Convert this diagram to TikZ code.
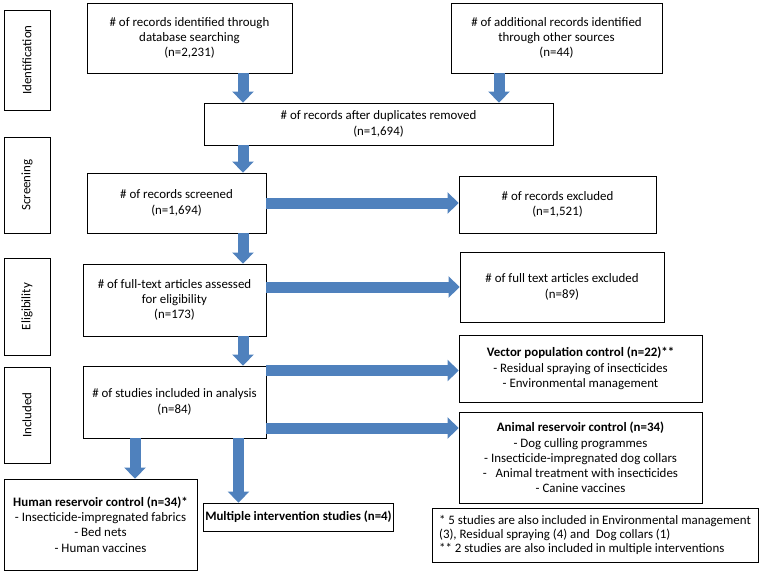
\documentclass[tikz,border=0pt]{standalone}
\usepackage{fontspec}
\setmainfont{Carlito}
\usetikzlibrary{arrows.meta, positioning, calc}
\definecolor{flowcolor}{RGB}{79, 129, 189}

\begin{document}
\begin{tikzpicture}[
    x=1pt, y=-1pt,
    box/.style={rectangle, draw=black, line width=0.8pt, fill=white, align=center, inner sep=2pt, font=\fontsize{12.9}{15.2}\selectfont},
    stage/.style={box, rotate=90, minimum width=100pt, minimum height=46pt},
    flow/.style={line width=11pt, draw=flowcolor, -{Triangle[width=21pt, length=11pt]}},
    note/.style={box, align=left, font=\fontsize{12.9}{13.6}\selectfont}
]
\useasboundingbox (0, 0) rectangle (761, 574);

% === Stage labels ===
\node[stage] (ident) at (27, 60) {Identification};
\node[stage, minimum width=96pt] (screen) at (27, 185) {Screening};
\node[stage, minimum width=97pt] (elig) at (27, 306.5) {Eligibility};
\node[stage, minimum width=96pt] (incl) at (27, 415) {Included};

% === Identification ===
\node[box, minimum width=205pt, minimum height=70pt] (db) at (189.5, 38) {\# of records identified through\\database searching\\(n=2,231)};
\node[box, minimum width=211pt, minimum height=70pt] (other) at (556.5, 38) {\# of additional records identified\\through other sources\\(n=44)};
\node[box, minimum width=349pt, minimum height=42pt] (dup) at (378.5, 124) {\# of records after duplicates removed\\(n=1,694)};

% === Screening ===
\node[box, minimum width=179pt, minimum height=60pt] (screened) at (176.5, 203) {\# of records screened\\(n=1,694)};
\node[box, minimum width=197pt, minimum height=57pt] (excluded) at (557.5, 204.5) {\# of records excluded\\(n=1,521)};

% === Eligibility ===
\node[box, minimum width=183pt, minimum height=72pt] (fulltext) at (174.5, 300) {\# of full-text articles assessed\\for eligibility\\(n=173)};
\node[box, minimum width=204pt, minimum height=70pt] (ftexcl) at (562, 287) {\# of full text articles excluded\\(n=89)};

% === Included ===
\node[box, minimum width=183pt, minimum height=72pt] (included) at (174.5, 402) {\# of studies included in analysis\\(n=84)};
\node[box, minimum width=243pt, minimum height=67pt] (vector) at (580.5, 368.5) {\textbf{Vector population control (n=22)**}\\- Residual spraying of insecticides\\- Environmental management};
\node[box, minimum width=243pt, minimum height=91pt] (animal) at (580.5, 457.5) {\textbf{Animal reservoir control (n=34)}\\- Dog culling programmes\\- Insecticide-impregnated dog collars\\-~~~Animal treatment with insecticides\\- Canine vaccines};
\node[box, minimum width=193pt, minimum height=91pt] (human) at (100.5, 524.5) {\textbf{Human reservoir control (n=34)*}\\- Insecticide-impregnated fabrics\\- Bed nets\\- Human vaccines};
\node[box, minimum width=185pt, minimum height=28pt] (multi) at (298.5, 517) {\textbf{Multiple intervention studies (n=4)}};
\node[note, minimum width=326pt, minimum height=54pt] (footnote) at (595, 535) {* 5 studies are also included in Environmental management\\(3), Residual spraying (4) and~~Dog collars (1)\\** 2 studies are also included in multiple interventions};

% Arrow columns and rows
\coordinate (colA) at (243, 0);
\coordinate (colB) at (499, 0);
\coordinate (colH) at (135, 0);
\coordinate (colM) at (238.5, 0);
\coordinate (rowV) at (0, 370.5);
\coordinate (rowA) at (0, 428);

% Arrows - main flow
\draw[flow] (db.south -| colA) -- (dup.north -| colA);
\draw[flow] (other.south -| colB) -- (dup.north -| colB);
\draw[flow] (dup.south -| colA) -- (screened.north -| colA);
\draw[flow] (screened.south -| colA) -- (fulltext.north -| colA);
\draw[flow] (fulltext.south -| colA) -- (included.north -| colA);

% Arrows - exclusions and outcomes
\draw[flow] (screened.east) -- (excluded.west |- screened.east);
\draw[flow] (fulltext.east |- ftexcl.west) -- (ftexcl.west);
\draw[flow] (included.east |- rowV) -- (vector.west |- rowV);
\draw[flow] (included.east |- rowA) -- (animal.west |- rowA);
\draw[flow] (included.south -| colH) -- (human.north -| colH);
\draw[flow] (included.south -| colM) -- (multi.north -| colM);

\end{tikzpicture}
\end{document}
